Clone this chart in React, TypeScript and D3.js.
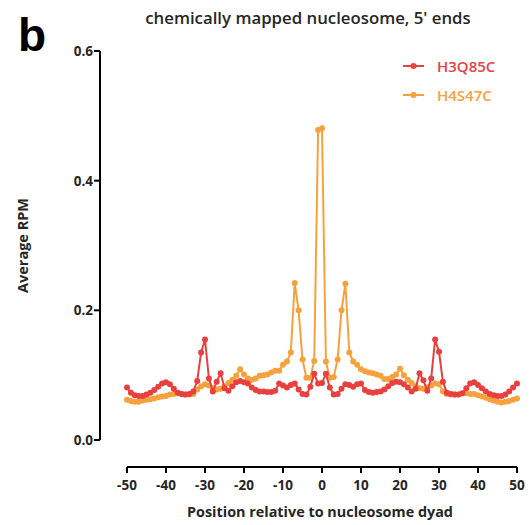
import React from "react";
import * as d3 from "d3";

const positions: number[] = d3.range(-50, 51);

const h3q85c: number[] = [
  0.081, 0.073, 0.069, 0.068, 0.068, 0.070, 0.073, 0.077, 0.082, 0.087,
  0.089, 0.086, 0.079, 0.073, 0.071, 0.070, 0.071, 0.075, 0.091, 0.135,
  0.155, 0.095, 0.075, 0.090, 0.103, 0.080, 0.076, 0.083, 0.089, 0.091,
  0.089, 0.087, 0.081, 0.077, 0.075, 0.075, 0.074, 0.074, 0.076, 0.087,
  0.084, 0.081, 0.085, 0.087, 0.078, 0.071, 0.070, 0.082, 0.102, 0.087,
  0.088,
  0.102, 0.081, 0.070, 0.071, 0.079, 0.086, 0.085, 0.082, 0.086, 0.087,
  0.077, 0.074, 0.073, 0.074, 0.075, 0.078, 0.083, 0.088, 0.090, 0.089,
  0.086, 0.081, 0.075, 0.079, 0.103, 0.092, 0.076, 0.095, 0.155, 0.136,
  0.090, 0.073, 0.071, 0.070, 0.070, 0.072, 0.080, 0.087, 0.089, 0.085,
  0.080, 0.075, 0.071, 0.069, 0.068, 0.068, 0.070, 0.075, 0.081, 0.087,
];

const h4s47c: number[] = [
  0.062, 0.060, 0.059, 0.059, 0.061, 0.062, 0.063, 0.064, 0.066, 0.067,
  0.068, 0.070, 0.071, 0.072, 0.071, 0.070, 0.070, 0.071, 0.078, 0.083,
  0.086, 0.084, 0.080, 0.078, 0.079, 0.083, 0.088, 0.093, 0.099, 0.109,
  0.101, 0.095, 0.093, 0.095, 0.099, 0.100, 0.101, 0.104, 0.107, 0.107,
  0.116, 0.121, 0.135, 0.242, 0.200, 0.124, 0.096, 0.096, 0.122, 0.478,
  0.481,
  0.121, 0.096, 0.097, 0.124, 0.200, 0.241, 0.135, 0.121, 0.116, 0.109,
  0.106, 0.104, 0.103, 0.101, 0.099, 0.094, 0.094, 0.097, 0.101, 0.110,
  0.100, 0.093, 0.088, 0.083, 0.080, 0.079, 0.081, 0.084, 0.087, 0.086,
  0.075, 0.071, 0.070, 0.070, 0.070, 0.072, 0.072, 0.071, 0.071, 0.069,
  0.067, 0.065, 0.063, 0.061, 0.059, 0.058, 0.059, 0.060, 0.062, 0.064,
];

const seriesNames: string[] = ["H3Q85C", "H4S47C"];
const seriesColors: string[] = ["#e8403f", "#f7a13c"];
const xTicks: number[] = [-50, -40, -30, -20, -10, 0, 10, 20, 30, 40, 50];
const yTicks: number[] = [0, 0.2, 0.4, 0.6];

const FONT = "'Open Sans', sans-serif";

export default function App() {
  const W = 529, H = 525;
  const x = d3.scaleLinear().domain([-50, 50]).range([127, 517]);
  const y = d3.scaleLinear().domain([0, 0.6]).range([440, 51]);
  const xAxisY = 467;
  const yAxisX = 100;

  const line = d3
    .line<[number, number]>()
    .x((d) => x(d[0]))
    .y((d) => y(d[1]));

  const all = [h3q85c, h4s47c];
  const order = [1, 0];

  return (
    <svg width={W} height={H} style={{ position: "absolute", left: 0, top: 0 }}>
      <rect width={W} height={H} fill="#fff" />
      <text x={18} y={51} fontFamily="'Liberation Sans', Arial, sans-serif" fontWeight={700} fontSize={46} fill="#000">
        b
      </text>
      <text x={308} y={24} textAnchor="middle" fontFamily={FONT} fontWeight={600} fontSize={16.8} fill="#262626">
        chemically mapped nucleosome, 5' ends
      </text>

      {/* Y axis */}
      <line x1={yAxisX} x2={yAxisX} y1={y(0.6)} y2={y(0)} stroke="#000" strokeWidth={2} />
      {yTicks.map((t) => (
        <g key={t}>
          <line x1={yAxisX - 6} x2={yAxisX} y1={y(t)} y2={y(t)} stroke="#000" strokeWidth={2} />
          <text x={yAxisX - 7} y={y(t) + 5} textAnchor="end" fontFamily={FONT} fontWeight={700} fontSize={13.5} fill="#262626">
            {t.toFixed(1)}
          </text>
        </g>
      ))}
      <text
        transform={`translate(28,${(y(0) + y(0.6)) / 2}) rotate(-90)`}
        textAnchor="middle"
        fontFamily={FONT}
        fontWeight={700}
        fontSize={14.5}
        fill="#262626"
      >
        Average RPM
      </text>

      {/* X axis */}
      <line x1={x(-50)} x2={x(50)} y1={xAxisY} y2={xAxisY} stroke="#000" strokeWidth={2} />
      {xTicks.map((t) => (
        <g key={t}>
          <line x1={x(t)} x2={x(t)} y1={xAxisY} y2={xAxisY + 6} stroke="#000" strokeWidth={2} />
          <text x={x(t)} y={xAxisY + 23} textAnchor="middle" fontFamily={FONT} fontWeight={700} fontSize={13.5} fill="#262626">
            {t}
          </text>
        </g>
      ))}
      <text x={320} y={517} textAnchor="middle" fontFamily={FONT} fontWeight={700} fontSize={14.4} fill="#262626">
        Position relative to nucleosome dyad
      </text>

      {/* Series */}
      {order.map((si) => {
        const pts: [number, number][] = positions.map((p, i) => [p, all[si][i]]);
        return (
          <g key={si}>
            <path d={line(pts) || ""} fill="none" stroke={seriesColors[si]} strokeWidth={2} />
            {pts.map((d, i) => (
              <circle key={i} cx={x(d[0])} cy={y(d[1])} r={3} fill={seriesColors[si]} />
            ))}
          </g>
        );
      })}

      {/* Legend */}
      {seriesNames.map((name, i) => {
        const ly = 66 + i * 29;
        return (
          <g key={name}>
            <line x1={403} x2={424} y1={ly} y2={ly} stroke={seriesColors[i]} strokeWidth={2} />
            <circle cx={413.5} cy={ly} r={3} fill={seriesColors[i]} />
            <text x={437} y={ly + 5.5} fontFamily={FONT} fontWeight={600} fontSize={15} fill={seriesColors[i]}>
              {name}
            </text>
          </g>
        );
      })}
    </svg>
  );
}
